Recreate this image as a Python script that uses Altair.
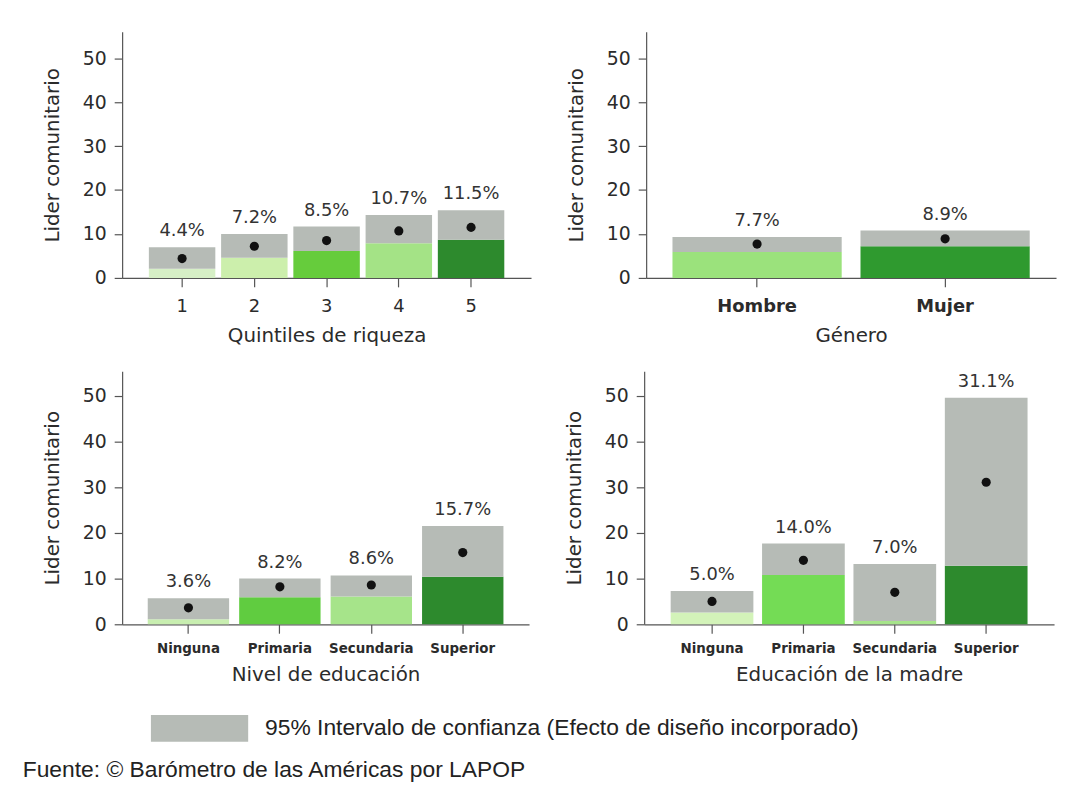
import altair as alt
import pandas as pd

FONT = "DejaVu Sans"
NOTE_FONT = "Liberation Sans, Arial, sans-serif"
TEXT_COLOR = "#2b2b2b"
AXIS_COLOR = "#555555"
GREY = "#b6bbb6"
LEGEND_LABEL = "95% Intervalo de confianza (Efecto de diseño incorporado)"
SOURCE = "Fuente: © Barómetro de las Américas por LAPOP"
Y_TITLE = "Lider comunitario"

# Quintiles de riqueza
quint_cat = ["1", "2", "3", "4", "5"]
quint_mean = [4.4, 7.2, 8.5, 10.7, 11.5]
quint_low = [2.1, 4.6, 6.1, 7.9, 8.7]
quint_high = [7.0, 10.0, 11.7, 14.3, 15.4]
quint_color = ["#d6efc6", "#ccefac", "#66cc3c", "#a4e386", "#2d8a2d"]

# Género
gen_cat = ["Hombre", "Mujer"]
gen_mean = [7.7, 8.9]
gen_low = [5.9, 7.2]
gen_high = [9.3, 10.8]
gen_color = ["#9be27c", "#2f9a2f"]

# Nivel de educación
edu_cat = ["Ninguna", "Primaria", "Secundaria", "Superior"]
edu_mean = [3.6, 8.2, 8.6, 15.7]
edu_low = [1.1, 5.9, 6.1, 10.4]
edu_high = [5.7, 10.0, 10.7, 21.5]
edu_color = ["#c8eeb0", "#60cc40", "#a6e48a", "#2d8a2d"]

# Educación de la madre
mad_cat = ["Ninguna", "Primaria", "Secundaria", "Superior"]
mad_mean = [5.0, 14.0, 7.0, 31.1]
mad_low = [2.6, 10.8, 0.7, 12.8]
mad_high = [7.3, 17.7, 13.2, 49.6]
mad_color = ["#d3f3b9", "#74dc55", "#a6e48a", "#2d8a2d"]

Y_TICKS = [0, 10, 20, 30, 40, 50]


def panel(cats, mean, low, high, colors, xtitle, ymax, width, height,
          pad_inner, pad_outer, xlab_size, xlab_weight, xlab_pad):
    df = pd.DataFrame({
        "cat": cats, "mean": mean, "low": low, "high": high,
        "color": colors, "label": [f"{m:.1f}%" for m in mean],
        "ic": [LEGEND_LABEL] * len(cats),
    })
    base = alt.Chart(df)
    x = alt.X("cat:N", sort=cats, title=xtitle,
              scale=alt.Scale(paddingInner=pad_inner, paddingOuter=pad_outer),
              axis=alt.Axis(labelAngle=0, labelFontSize=xlab_size,
                            labelFontWeight=xlab_weight, labelPadding=xlab_pad,
                            tickSize=9, titlePadding=10))
    ysc = alt.Scale(domain=[0, ymax], nice=False, zero=True)
    yax = alt.Axis(values=Y_TICKS, tickSize=8, labelPadding=8, titlePadding=20,
                   labelFontSize=19)

    green = base.mark_bar(opacity=1).encode(
        x=x,
        y=alt.Y("low:Q", scale=ysc, axis=yax, title=Y_TITLE),
        color=alt.Color("color:N", scale=None),
    )
    ci = base.mark_bar(opacity=1).encode(
        x=x,
        y=alt.Y("low:Q", scale=ysc, axis=yax, title=Y_TITLE),
        y2="high:Q",
        color=alt.Color(
            "ic:N",
            scale=alt.Scale(domain=[LEGEND_LABEL], range=[GREY]),
            legend=alt.Legend(
                title=None, orient="none", legendX=29, legendY=653,
                symbolType="M-1,-0.275L1,-0.275L1,0.275L-1,0.275Z",
                symbolSize=9604, symbolStrokeWidth=0, symbolOpacity=1,
                labelFont=NOTE_FONT, labelFontSize=23, labelColor="#222222",
                labelOffset=17, labelLimit=0, padding=0,
            ),
        ),
    )
    dots = base.mark_circle(size=85, color="#111111", opacity=1).encode(
        x=x, y=alt.Y("mean:Q", scale=ysc, axis=yax, title=Y_TITLE))
    labels = base.mark_text(dy=-11, baseline="alphabetic", fontSize=18,
                            font=FONT, color="#333333").encode(
        x=x, y=alt.Y("high:Q", scale=ysc, axis=yax, title=Y_TITLE),
        text="label:N")
    return alt.layer(green, ci, dots, labels).properties(width=width, height=height)


p1 = panel(quint_cat, quint_mean, quint_low, quint_high, quint_color,
           "Quintiles de riqueza", 56, 412, 248, 0.08, 0.37, 18, "normal", 11)
p2 = panel(gen_cat, gen_mean, gen_low, gen_high, gen_color,
           "Género", 56, 413, 248, 0.10, 0.14, 18, "bold", 11)
p3 = panel(edu_cat, edu_mean, edu_low, edu_high, edu_color,
           "Nivel de educación", 55.4, 410, 255, 0.11, 0.28, 13.5, "bold", 8)
p4 = panel(mad_cat, mad_mean, mad_low, mad_high, mad_color,
           "Educación de la madre", 55.4, 413, 255, 0.095, 0.29, 13.5, "bold", 8)

top = alt.hconcat(p1, p2, spacing=35)
bottom = alt.hconcat(p3, p4, spacing=35)

chart = alt.vconcat(top, bottom, spacing=26).properties(
    title=alt.TitleParams(SOURCE, orient="bottom", anchor="start", font=NOTE_FONT,
                          fontSize=23, fontWeight="normal", color="#222222",
                          offset=17, dx=-20),
    padding={"left": 14, "top": 21, "right": 5, "bottom": 5},
    background="white",
).configure_view(stroke=None).configure_axis(
    domainColor=AXIS_COLOR, tickColor=AXIS_COLOR, labelColor=TEXT_COLOR,
    titleColor=TEXT_COLOR, labelFont=FONT, titleFont=FONT, titleFontSize=20,
    titleFontWeight="normal", grid=False, domainWidth=1.2, tickWidth=1.2,
)

chart.save("out.html", embed_options={"renderer": "svg", "actions": False})
